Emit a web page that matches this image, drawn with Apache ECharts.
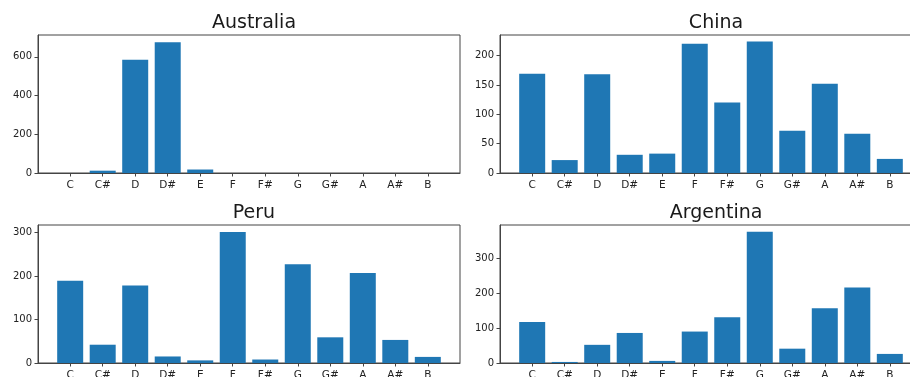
<!DOCTYPE html>
<html><head><meta charset="utf-8">
<script src="https://cdn.jsdelivr.net/npm/echarts@6/dist/echarts.min.js"></script>
<style>html,body{margin:0;padding:0;background:#fff}#c{width:910px;height:377px}</style>
</head><body><div id="c"></div>
<script>
const notes = ['C','C#','D','D#','E','F','F#','G','G#','A','A#','B'];
const titles = ['Australia','China','Peru','Argentina'];
const australia = [0,12,585,675,18,0,0,0,0,0,0,0];
const china = [169,22,168,31,33,220,120,224,72,152,67,24];
const peru = [189,42,178,15,6,301,8,227,59,207,53,14];
const argentina = [117,3,52,86,6,90,131,376,41,157,216,26];
const yMax = [713,235,317,395];
const yTicks = [[0,200,400,600],[0,50,100,150,200],[0,100,200,300],[0,100,200,300]];
const xTicks = notes.map((n,i)=>i);

const series = [australia, china, peru, argentina];
const grids = [
  {left:38, top:35, width:422, height:138},
  {left:500, top:35, width:422, height:138},
  {left:38, top:225, width:422, height:138},
  {left:500, top:225, width:422, height:138}
];
const font = 'DejaVu Sans';
const option = {
  animation:false,
  backgroundColor:'#fff',
  title: grids.map((g,i)=>({
    text: titles[i], left: g.left + g.width/2, top: g.top - 26, textAlign:'center',
    textStyle:{fontFamily:font, fontSize:19, fontWeight:'normal', color:'#1a1a1a'}
  })),
  grid: grids.map(g=>Object.assign({show:true, borderColor:'#444', borderWidth:1, backgroundColor:'#fff',
    containLabel:false, outerBoundsMode:'none'}, g)),
  xAxis: grids.map((g,i)=>({
    type:'value', gridIndex:i, min:-0.99, max:11.99,
    axisLine:{show:true, onZero:false, lineStyle:{color:'#444'}},
    axisTick:{show:true, length:3.5, customValues:xTicks, lineStyle:{color:'#444'}},
    axisLabel:{customValues:xTicks, formatter:v=>notes[Math.round(v)] || '', margin:7,
      fontFamily:font, fontSize:10.5, color:'#222'},
    splitLine:{show:false}
  })),
  yAxis: grids.map((g,i)=>({
    type:'value', gridIndex:i, min:0, max:yMax[i],
    axisLine:{show:true, onZero:false, lineStyle:{color:'#444'}},
    axisTick:{show:true, length:3.5, customValues:yTicks[i], lineStyle:{color:'#444'}},
    axisLabel:{customValues:yTicks[i], margin:6, fontFamily:font, fontSize:10, color:'#222'},
    splitLine:{show:false}
  })),
  series: series.map((d,i)=>({
    type:'bar', xAxisIndex:i, yAxisIndex:i, barWidth:26,
    data: d.map((v,k)=>[k,v]),
    itemStyle:{color:'#1f77b4'}
  }))
};
echarts.init(document.getElementById('c')).setOption(option);
</script></body></html>
